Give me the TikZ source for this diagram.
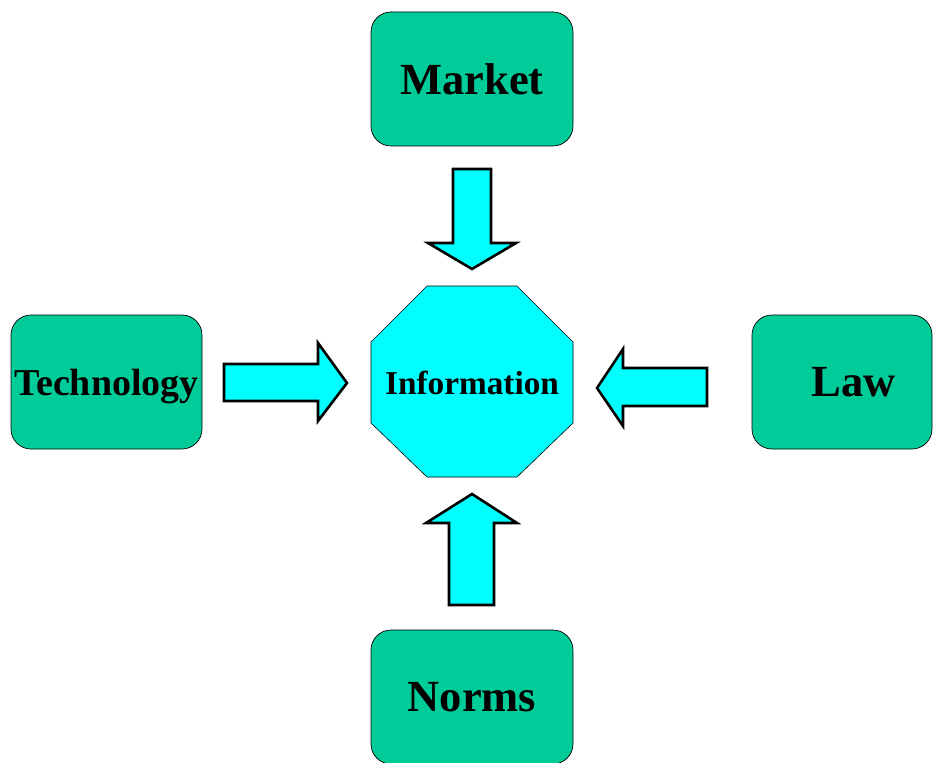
\documentclass[tikz,border=0pt]{standalone}
\usepackage{fontspec}
\setmainfont{Liberation Serif}
\definecolor{boxgreen}{HTML}{00CC99}
\definecolor{infocyan}{HTML}{00FFFF}
\begin{document}
\begin{tikzpicture}[x=1pt,y=-1pt,
  box/.style={draw=black, line width=0.7pt, fill=boxgreen, rounded corners=20pt,
    minimum width=202pt, minimum height=134pt, inner sep=0pt,
    font=\bfseries\fontsize{44.5}{44.5}\selectfont},
  blockarrow/.style={draw=black, line width=2.6pt, fill=infocyan, line join=miter},
  octa/.style={draw=black, line width=0.6pt, fill=infocyan}]
\useasboundingbox (0,0) rectangle (933,762);
\clip (0,0) rectangle (933,762);

% outer boxes
\node[box] (market) at (472,79) {Market};
\node[box, minimum width=191pt, text depth=0pt,
  font=\bfseries\fontsize{38}{38}\selectfont] (tech) at (106.5,382) {Technology};
\node[box, minimum width=180pt] (law) at (842,382) {\hspace*{24pt}Law};
\node[box] (norms) at (472,697) {Norms};

% central octagon
\path[octa] (427,286) -- (517,286) -- (573,342) -- (573,423) -- (517,477)
  -- (427,477) -- (371,423) -- (371,342) -- cycle;
\node[font=\bfseries\fontsize{33.3}{33.3}\selectfont] (info) at (472,383) {Information};

% block arrows pointing inward
\path[blockarrow] (453,169) -- (491,169) -- (491,243) -- (516,243) -- (472,269)
  -- (428,243) -- (453,243) -- cycle;
\path[blockarrow] (224,364) -- (318,364) -- (318,343) -- (347,383) -- (318,421)
  -- (318,401) -- (224,401) -- cycle;
\path[blockarrow] (707,368) -- (623,368) -- (623,349) -- (597,388) -- (623,426)
  -- (623,406) -- (707,406) -- cycle;
\path[blockarrow] (449,605) -- (494,605) -- (494,523) -- (517,523) -- (472,494)
  -- (426,523) -- (449,523) -- cycle;
\end{tikzpicture}
\end{document}
